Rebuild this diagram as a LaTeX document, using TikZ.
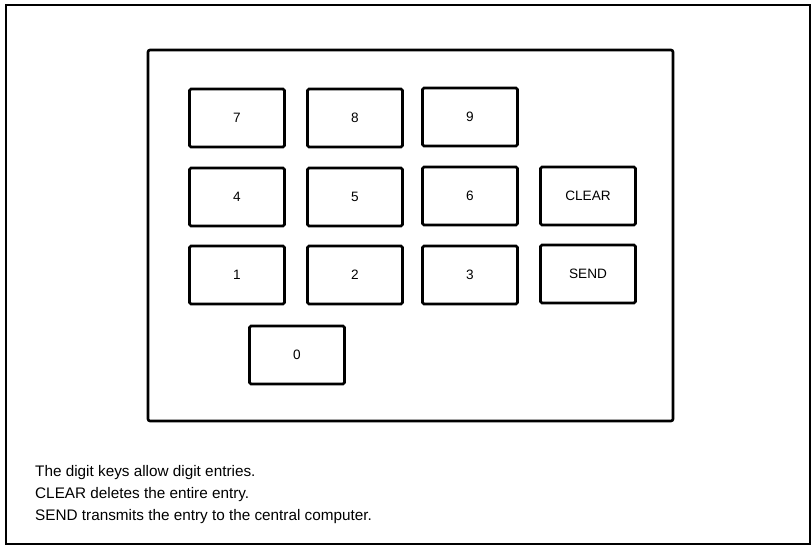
\documentclass[tikz,border=0pt]{standalone}
\usepackage{fontspec}
\setmainfont{Liberation Sans}
\usepackage{tikz}
\usetikzlibrary{positioning}

\begin{document}
\begin{tikzpicture}[
  x=1pt, y=-1pt,
  keybox/.style={rectangle, draw, line width=2.8pt, rounded corners=1.5pt,
    minimum width=95pt, minimum height=58pt, inner sep=0pt,
    font=\fontsize{13.6}{15}\selectfont},
  panel/.style={draw, line width=2.6pt, rounded corners=2pt},
  frame/.style={draw, line width=1.3pt},
  note/.style={anchor=base west, inner sep=0pt, font=\fontsize{15.3}{18}\selectfont}
]
\useasboundingbox (0,0) rectangle (812,546);
\draw[frame] (6,5) rectangle (810,544);
\draw[panel] (148,50) rectangle (673,421);

% digit rows
\node[keybox] (k7) at (237,118) {7};
\node[keybox] (k8) at (355,118) {8};
\node[keybox] (k9) at (470,117) {9};
\node[keybox] (k4) at (237,197) {4};
\node[keybox] (k5) at (355,197) {5};
\node[keybox] (k6) at (470,196) {6};
\node[keybox] (k1) at (237,275) {1};
\node[keybox] (k2) at (355,275) {2};
\node[keybox] (k3) at (470,275) {3};
\node[keybox] (k0) at (297,355) {0};

% command keys
\node[keybox] (clear) at (588,196) {CLEAR};
\node[keybox] (send) at (588,274) {SEND};

% notes below the panel
\node[note] (note1) at (35,476) {The digit keys allow digit entries.};
\node[note] (note2) at (35,498) {CLEAR deletes the entire entry.};
\node[note] (note3) at (35,520) {SEND transmits the entry to the central computer.};
\end{tikzpicture}
\end{document}
